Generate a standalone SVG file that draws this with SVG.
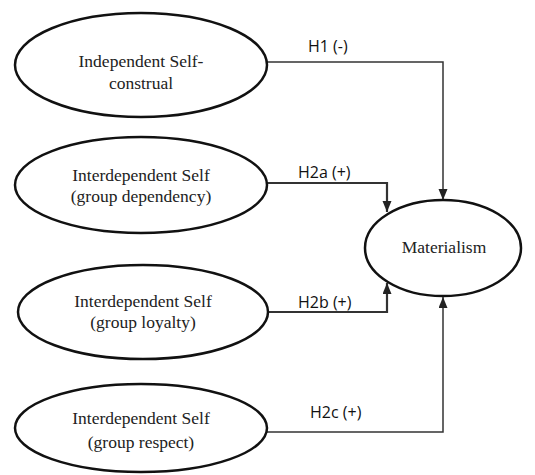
<svg xmlns="http://www.w3.org/2000/svg" width="535" height="475" viewBox="0 0 535 475">
<defs>
<marker id="ah" markerUnits="userSpaceOnUse" markerWidth="12" markerHeight="10" refX="11" refY="4.5" orient="auto">
<path d="M0,0 L11,4.5 L0,9 z" fill="#222"/>
</marker>
<ellipse id="shape" cx="0" cy="0" rx="1" ry="1"/>
</defs>
<rect width="535" height="475" fill="#fff"/>
<g id="connectors" fill="none" stroke="#333">
<path stroke-width="1.5" d="M267,62 H443 V200" marker-end="url(#ah)"/>
<path stroke-width="2.2" d="M267,183 H387 V212" marker-end="url(#ah)"/>
<path stroke-width="2.2" d="M268,312 H387 V283" marker-end="url(#ah)"/>
<path stroke-width="1.5" d="M267,432 H443 V297" marker-end="url(#ah)"/>
</g>
<g id="labels" font-family="Open Sans, Liberation Sans, sans-serif" font-size="16" fill="#111">
<text x="308" y="52">H1 (-)</text>
<text x="298" y="178">H2a (+)</text>
<text x="298" y="308">H2b (+)</text>
<text x="310" y="418">H2c (+)</text>
</g>
<g id="n_independent">
<ellipse cx="141" cy="65" rx="126" ry="52" fill="#fff" stroke="#111" stroke-width="2.5"/>
<g font-family="Liberation Serif, serif" font-size="17.5" fill="#222" text-anchor="middle">
<text x="141" y="67">Independent Self-</text>
<text x="141" y="89">construal</text>
</g>
</g>
<g id="n_dependency">
<ellipse cx="141" cy="185" rx="126" ry="48" fill="#fff" stroke="#111" stroke-width="2.5"/>
<g font-family="Liberation Serif, serif" font-size="17.5" fill="#222" text-anchor="middle">
<text x="141" y="181">Interdependent Self</text>
<text x="141" y="202">(group dependency)</text>
</g>
</g>
<g id="n_loyalty">
<ellipse cx="143" cy="312" rx="125" ry="47" fill="#fff" stroke="#111" stroke-width="2.5"/>
<g font-family="Liberation Serif, serif" font-size="17.5" fill="#222" text-anchor="middle">
<text x="143" y="307">Interdependent Self</text>
<text x="143" y="328">(group loyalty)</text>
</g>
</g>
<g id="n_respect">
<ellipse cx="141" cy="428" rx="126" ry="44" fill="#fff" stroke="#111" stroke-width="2.5"/>
<g font-family="Liberation Serif, serif" font-size="17.5" fill="#222" text-anchor="middle">
<text x="141" y="424">Interdependent Self</text>
<text x="141" y="448">(group respect)</text>
</g>
</g>
<g id="n_materialism">
<ellipse cx="443" cy="248" rx="78" ry="48" fill="#fff" stroke="#111" stroke-width="2.5"/>
<g font-family="Liberation Serif, serif" font-size="17.5" fill="#222" text-anchor="middle">
<text x="444" y="253">Materialism</text>
</g>
</g>
</svg>
